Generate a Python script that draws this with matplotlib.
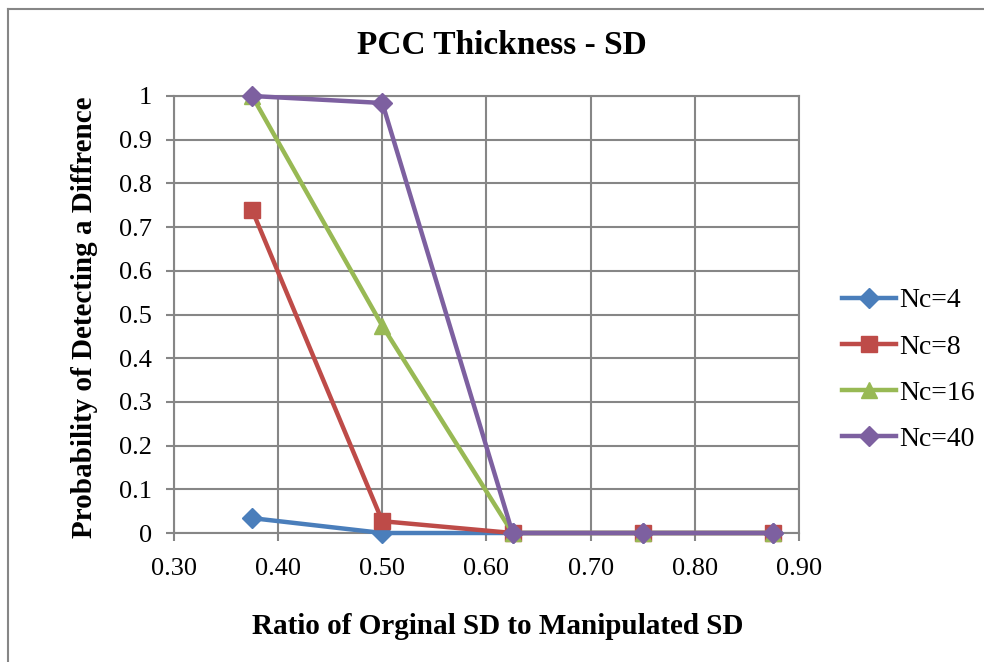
import matplotlib
matplotlib.use("Agg")
import matplotlib.pyplot as plt
from matplotlib.lines import Line2D

ratios = [0.375, 0.500, 0.625, 0.750, 0.875]
nc4 = [0.034, 0.0, 0.0, 0.0, 0.0]
nc8 = [0.739, 0.027, 0.0, 0.0, 0.0]
nc16 = [1.0, 0.474, 0.0, 0.0, 0.0]
nc40 = [1.0, 0.984, 0.0, 0.0, 0.0]
series_names = ["Nc=4", "Nc=8", "Nc=16", "Nc=40"]
x_ticks = [0.30, 0.40, 0.50, 0.60, 0.70, 0.80, 0.90]
y_ticks = [0, 0.1, 0.2, 0.3, 0.4, 0.5, 0.6, 0.7, 0.8, 0.9, 1]

plt.rcParams['font.family'] = ['Liberation Serif', 'DejaVu Serif']

W, H = 984, 662
fig = plt.figure(figsize=(W / 100, H / 100), dpi=100)
ax = fig.add_axes([174 / W, 1 - 533 / H, (799 - 174) / W, (533 - 96) / H])

grid_c = "#868686"
styles = [
    (nc4, "#4A7EBB", "D", 10),
    (nc8, "#BE4B48", "s", 11),
    (nc16, "#98B954", "^", 12),
    (nc40, "#7D60A0", "D", 10),
]
for (vals, col, mk, ms), name in zip(styles, series_names):
    ax.plot(ratios, vals, color=col, lw=3.2, marker=mk, ms=ms,
            markeredgecolor=col, label=name, clip_on=False, zorder=3)

ax.set_xlim(0.30, 0.90)
ax.set_ylim(0, 1)
ax.set_xticks(x_ticks)
ax.set_xticklabels([f"{v:.2f}" for v in x_ticks])
ax.set_yticks(y_ticks)
ax.set_yticklabels([f"{v:g}" for v in y_ticks])
ax.grid(True, color=grid_c, lw=1.5)
ax.set_axisbelow(True)
for s in ax.spines.values():
    s.set_color(grid_c)
    s.set_linewidth(1.5)
ax.tick_params(axis='both', colors=grid_c, labelcolor='black', labelsize=19,
               length=6, width=1.5)
ax.tick_params(axis='x', pad=12)
ax.tick_params(axis='y', pad=10)

fig.text(502 / W, 1 - 45 / H, "PCC Thickness - SD", fontsize=24,
         fontweight='bold', ha='center', va='center')
fig.text(498 / W, 1 - 627 / H, "Ratio of Orginal SD to Manipulated SD",
         fontsize=21, fontweight='bold', ha='center', va='center')
fig.text(85 / W, 1 - 317 / H, "Probability of Detecting a Diffrence",
         fontsize=21, fontweight='bold', ha='center', va='center',
         rotation=90)

fig.legend(loc='center left', bbox_to_anchor=(842 / W, 1 - 370 / H),
           frameon=False, fontsize=20, handlelength=1.95, labelspacing=0.75,
           handletextpad=0.12, borderpad=0, borderaxespad=0)

# chart frame (top and left edges fall inside the canvas)
fig.add_artist(Line2D([8 / W, 8 / W], [0, 1 - 9 / H], transform=fig.transFigure,
                      color=grid_c, lw=1.5))
fig.add_artist(Line2D([8 / W, 1], [1 - 9 / H, 1 - 9 / H],
                      transform=fig.transFigure, color=grid_c, lw=1.5))

fig.savefig("out.png", dpi=100)
